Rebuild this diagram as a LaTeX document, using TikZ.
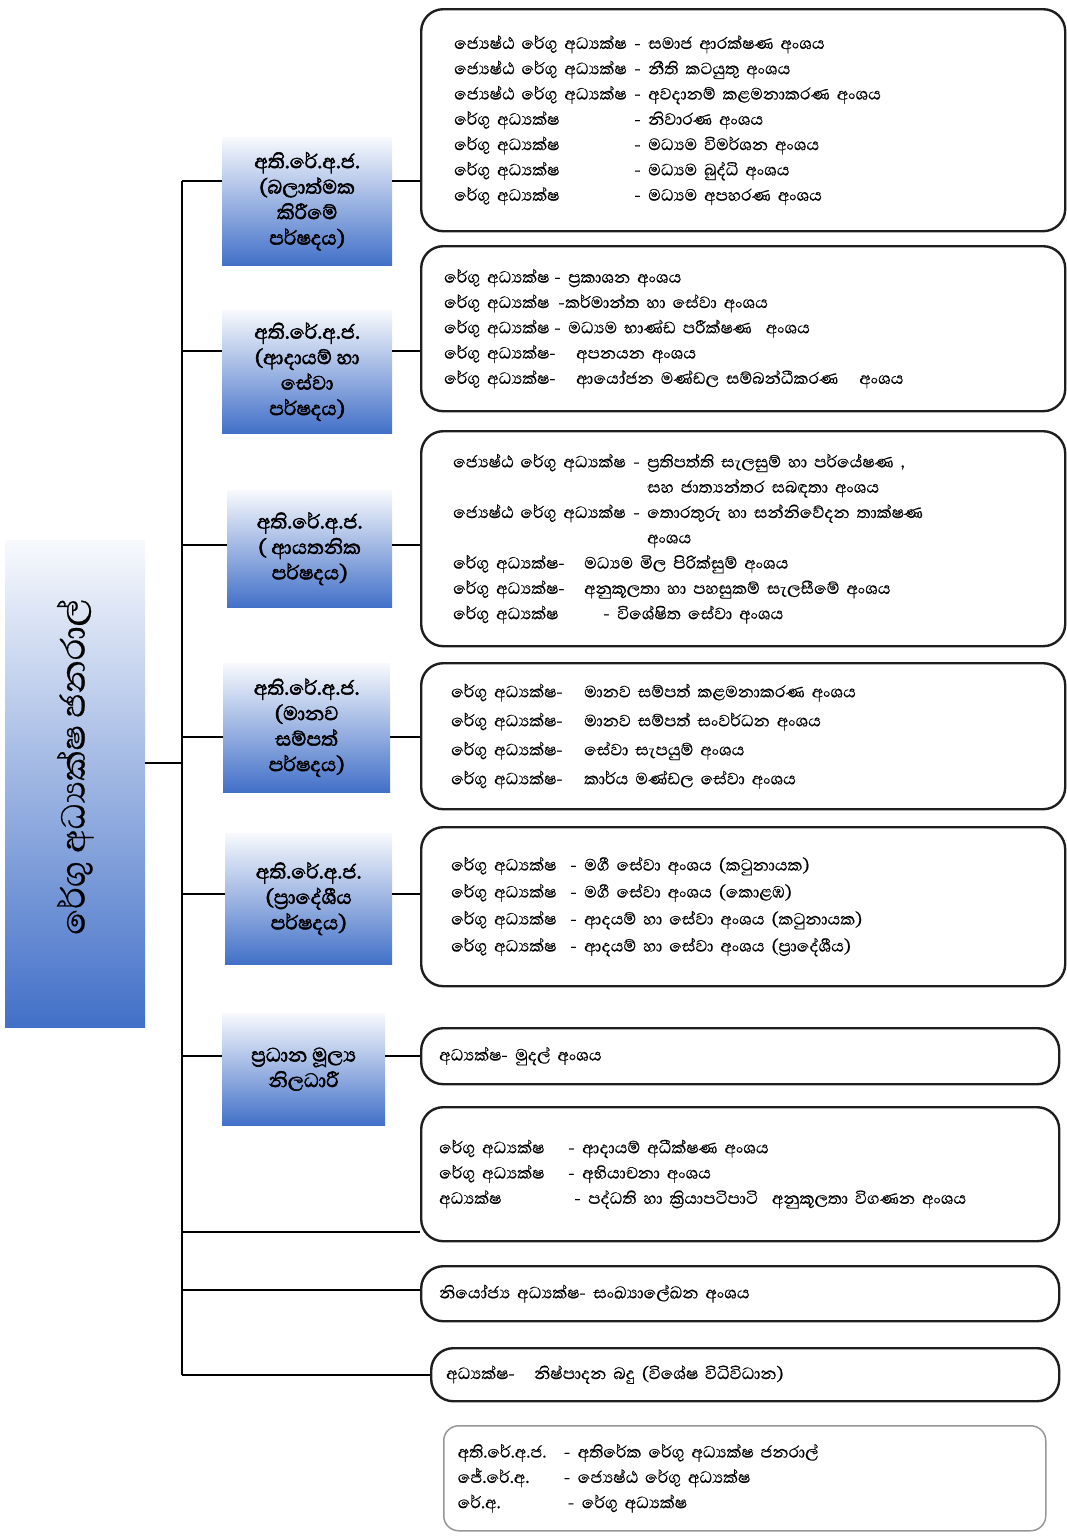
\documentclass[tikz,border=0pt]{standalone}
\usepackage{fontspec}
\setmainfont[Script=Sinhala, FakeBold=0.5, BoldFont={Abhaya Libre}, BoldFeatures={FakeBold=2}]{Abhaya Libre}
\usepackage{xcolor}
\usetikzlibrary{positioning}

\definecolor{deptblue}{RGB}{66,112,200}
\definecolor{framedark}{RGB}{30,30,30}
\definecolor{legendgray}{RGB}{150,150,150}

\newcommand{\drow}[3]{\makebox[#1][l]{#2}#3}

\begin{document}
\begin{tikzpicture}[
        x=1pt, y=-1pt,
        detail/.style={rectangle, draw=framedark, line width=2.4pt, rounded corners=22pt, anchor=north west, align=left, inner ysep=3pt, font=\fontsize{21}{25.3}\selectfont},
        board/.style={rectangle, top color=white!96!deptblue, bottom color=deptblue, anchor=north west, align=center, inner sep=2pt, font=\bfseries\fontsize{25}{25.5}\selectfont},
        link/.style={line width=2.4pt, black}
    ]

    \useasboundingbox (0,0) rectangle (1066,1537);

    % Nodes
    \node (dg) [board, minimum width=140, minimum height=487] at (5,540) {};
    \node (dgtext) [rotate=90, font=\fontsize{43}{46}\selectfont] at ([yshift=17]dg.center) {රේගු අධ්^^^^200dයක්ෂ ජනරාල්};

    \node (s1) [board, minimum width=170, minimum height=128] at (222,137) {අති.රේ.අ.ජ.\\(බලාත්මක\\කිරීමේ\\පර්ෂදය)};
    \node (s2) [board, minimum width=170, minimum height=123] at (222,310) {අති.රේ.අ.ජ.\\(ආදායම් හා\\සේවා\\පර්ෂදය)};
    \node (s3) [board, minimum width=165, minimum height=117] at (227,490) {අති.රේ.අ.ජ.\\( ආයතනික\\පර්ෂදය)};
    \node (s4) [board, minimum width=167, minimum height=129] at (223,663) {අති.රේ.අ.ජ.\\(මානව\\සම්පත්\\පර්ෂදය)};
    \node (s5) [board, minimum width=167, minimum height=131] at (225,833) {අති.රේ.අ.ජ.\\(ප්^^^^200dරාදේශීය\\පර්ෂදය)};
    \node (s6) [board, minimum width=163, minimum height=112] at (222,1013) {ප්^^^^200dරධාන මූල්^^^^200dය\\නිලධාරී};

    \node (d1) [detail, minimum width=644, minimum height=222, inner xsep=33, text width=578] at (420,8) {%
        \drow{180pt}{ජ්^^^^200dයෙෂ්ඨ රේගු අධ්^^^^200dයක්ෂ}{- සමාජ ආරක්ෂණ අංශය}\\
        \drow{180pt}{ජ්^^^^200dයෙෂ්ඨ රේගු අධ්^^^^200dයක්ෂ}{- නීති කටයුතු අංශය}\\
        \drow{180pt}{ජ්^^^^200dයෙෂ්ඨ රේගු අධ්^^^^200dයක්ෂ}{- අවදානම් කළමනාකරණ අංශය}\\
        \drow{180pt}{රේගු අධ්^^^^200dයක්ෂ}{- නිවාරණ අංශය}\\
        \drow{180pt}{රේගු අධ්^^^^200dයක්ෂ}{- මධ්^^^^200dයම විමර්ශන අංශය}\\
        \drow{180pt}{රේගු අධ්^^^^200dයක්ෂ}{- මධ්^^^^200dයම බුද්ධි අංශය}\\
        \drow{180pt}{රේගු අධ්^^^^200dයක්ෂ}{- මධ්^^^^200dයම අපහරණ අංශය}};
    \node (d2) [detail, minimum width=644, minimum height=165, inner xsep=23, text width=598] at (420,245) {%
        \drow{110pt}{රේගු අධ්^^^^200dයක්ෂ}{- ප්^^^^200dරකාශන අංශය}\\
        \drow{114pt}{රේගු අධ්^^^^200dයක්ෂ}{-කර්මාන්ත හා සේවා අංශය}\\
        \drow{110pt}{රේගු අධ්^^^^200dයක්ෂ}{- මධ්^^^^200dයම භාණ්ඩ පරීක්ෂණ~ අංශය}\\
        \drow{132pt}{රේගු අධ්^^^^200dයක්ෂ-}{අපනයන අංශය}\\
        \drow{132pt}{රේගු අධ්^^^^200dයක්ෂ-}{ආයෝජන මණ්ඩල සම්බන්ධීකරණ~~ අංශය}};
    \node (d3) [detail, minimum width=644, minimum height=215, inner xsep=32, text width=580] at (420,430) {%
        \drow{180pt}{ජ්^^^^200dයෙෂ්ඨ රේගු අධ්^^^^200dයක්ෂ}{- ප්^^^^200dරතිපත්ති සැලසුම් හා පර්යේෂණ ,}\\
        \hspace*{194pt}සහ ජාත්^^^^200dයන්තර සබඳතා අංශය\\
        \drow{180pt}{ජ්^^^^200dයෙෂ්ඨ රේගු අධ්^^^^200dයක්ෂ}{- තොරතුරු හා සන්නිවේදන තාක්ෂණ}\\
        \hspace*{194pt}අංශය\\
        \drow{131pt}{රේගු අධ්^^^^200dයක්ෂ-}{මධ්^^^^200dයම මිල පිරික්සුම් අංශය}\\
        \drow{131pt}{රේගු අධ්^^^^200dයක්ෂ-}{අනුකූලතා හා පහසුකම් සැලසීමේ අංශය}\\
        \drow{150pt}{රේගු අධ්^^^^200dයක්ෂ}{- විශේෂිත සේවා අංශය}};
    \node (d4) [detail, minimum width=644, minimum height=146, inner xsep=30, text width=584, font=\fontsize{21}{29}\selectfont] at (420,662) {%
        \drow{133pt}{රේගු අධ්^^^^200dයක්ෂ-}{මානව සම්පත් කළමනාකරණ අංශය}\\
        \drow{133pt}{රේගු අධ්^^^^200dයක්ෂ-}{මානව සම්පත් සංවර්ධන අංශය}\\
        \drow{133pt}{රේගු අධ්^^^^200dයක්ෂ-}{සේවා සැපයුම් අංශය}\\
        \drow{133pt}{රේගු අධ්^^^^200dයක්ෂ-}{කාර්ය මණ්ඩල සේවා අංශය}};
    \node (d5) [detail, minimum width=644, minimum height=159, inner xsep=30, text width=584, font=\fontsize{21}{27}\selectfont] at (420,826) {%
        \drow{119pt}{රේගු අධ්^^^^200dයක්ෂ}{- මගී සේවා අංශය (කටුනායක)}\\
        \drow{119pt}{රේගු අධ්^^^^200dයක්ෂ}{- මගී සේවා අංශය (කොළඹ)}\\
        \drow{119pt}{රේගු අධ්^^^^200dයක්ෂ}{- ආදයම් හා සේවා අංශය (කටුනායක)}\\
        \drow{119pt}{රේගු අධ්^^^^200dයක්ෂ}{- ආදයම් හා සේවා අංශය (ප්^^^^200dරාදේශීය)}};
    \node (d6) [detail, minimum width=638, minimum height=56, inner xsep=18, text width=602] at (420,1027) {අධ්^^^^200dයක්ෂ- මුදල් අංශය};
    \node (d7) [detail, minimum width=638, minimum height=134, inner xsep=18, text width=602] at (420,1106) {%
        \drow{129pt}{රේගු අධ්^^^^200dයක්ෂ}{- ආදායම් අධීක්ෂණ අංශය}\\
        \drow{129pt}{රේගු අධ්^^^^200dයක්ෂ}{- අභියාචනා අංශය}\\
        \drow{135pt}{අධ්^^^^200dයක්ෂ}{- පද්ධති හා ක්^^^^200dරියාපටිපාටි~ අනුකූලතා විගණන අංශය}};
    \node (d8) [detail, minimum width=638, minimum height=55, inner xsep=18, text width=602] at (420,1265) {නියෝජ්^^^^200dය අධ්^^^^200dයක්ෂ- සංඛ්^^^^200dයාලේඛන අංශය};
    \node (d9) [detail, minimum width=628, minimum height=53, inner xsep=15, text width=598] at (430,1347) {\drow{88pt}{අධ්^^^^200dයක්ෂ-}{නිෂ්පාදන බදු (විශේෂ විධිවිධාන)}};

    \node (key) [detail, draw=legendgray, line width=1.5pt, rounded corners=15pt, minimum width=602, minimum height=105, inner xsep=14, text width=574] at (443,1425) {%
        \drow{106pt}{අති.රේ.අ.ජ.}{- අතිරේක රේගු අධ්^^^^200dයක්ෂ ජනරාල්}\\
        \drow{106pt}{ජේ.රේ.අ.}{- ජ්^^^^200dයෙෂ්ඨ රේගු අධ්^^^^200dයක්ෂ}\\
        \drow{110pt}{රේ.අ.}{- රේගු අධ්^^^^200dයක්ෂ}};

    % Trunk points
    \coordinate (t1) at (182,181);
    \coordinate (t2) at (182,351);
    \coordinate (t3) at (182,545);
    \coordinate (t4) at (182,737);
    \coordinate (tm) at (182,763);
    \coordinate (t5) at (182,894);
    \coordinate (t6) at (182,1056);
    \coordinate (t7) at (182,1232);
    \coordinate (t8) at (182,1290);
    \coordinate (t9) at (182,1375);

    % Lines
    \draw [link] (t1) -- (t9);
    \draw [link] (dg.east |- tm) -- (tm);
    \draw [link] (t1) -- (t1 -| s1.west);
    \draw [link] (s1.east |- t1) -- (t1 -| d1.west);
    \draw [link] (t2) -- (t2 -| s2.west);
    \draw [link] (s2.east |- t2) -- (t2 -| d2.west);
    \draw [link] (t3) -- (t3 -| s3.west);
    \draw [link] (s3.east |- t3) -- (t3 -| d3.west);
    \draw [link] (t4) -- (t4 -| s4.west);
    \draw [link] (s4.east |- t4) -- (t4 -| d4.west);
    \draw [link] (t5) -- (t5 -| s5.west);
    \draw [link] (s5.east |- t5) -- (t5 -| d5.west);
    \draw [link] (t6) -- (t6 -| s6.west);
    \draw [link] (s6.east |- t6) -- (t6 -| d6.west);
    \draw [link] (t7) -- (t7 -| d7.west);
    \draw [link] (t8) -- (t8 -| d8.west);
    \draw [link] (t9) -- (t9 -| d9.west);

\end{tikzpicture}
\end{document}
